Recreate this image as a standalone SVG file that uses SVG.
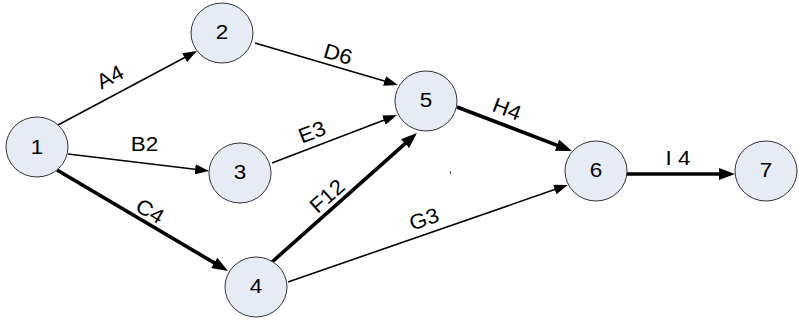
<svg xmlns="http://www.w3.org/2000/svg" width="799" height="321" viewBox="0 0 799 321">
<style>
.node ellipse{fill:#E6EBF5;stroke:#333;stroke-width:1}
text{font-family:"Liberation Sans",Arial,sans-serif;font-size:21px;fill:#000;text-anchor:middle;dominant-baseline:central}
.thin{stroke:#000;stroke-width:1.6;fill:none;marker-end:url(#ah)}
.thick{stroke:#000;stroke-width:3.6;fill:none;marker-end:url(#ahb)}
</style>
<defs>
<marker id="ah" markerUnits="userSpaceOnUse" markerWidth="14" markerHeight="10" refX="6" refY="5" orient="auto" viewBox="0 0 14 10"><path d="M0,0 L14,5 L0,10 z" fill="#000"/></marker>
<marker id="ahb" markerUnits="userSpaceOnUse" markerWidth="16" markerHeight="12" refX="8" refY="6" orient="auto" viewBox="0 0 16 12"><path d="M0,0 L16,6 L0,12 z" fill="#000"/></marker>
</defs>
<rect width="799" height="321" fill="#fff"/>
<g id="connectors">
<line class="thin" x1="58" y1="125" x2="189.9" y2="54.8"/>
<line class="thin" x1="68" y1="154" x2="201.1" y2="170"/>
<line class="thick" x1="57" y1="170" x2="221.1" y2="266.9"/>
<line class="thin" x1="255" y1="43" x2="390.3" y2="82.7"/>
<line class="thin" x1="272" y1="163" x2="389.5" y2="117.9"/>
<line class="thick" x1="272" y1="262" x2="411" y2="138.3"/>
<line class="thin" x1="288" y1="282" x2="560.4" y2="187.6"/>
<line class="thick" x1="457" y1="107" x2="564.5" y2="148.1"/>
<line class="thick" x1="627" y1="174" x2="727" y2="174"/>
<text transform="translate(110,77) rotate(-28) scale(1.07,1)">A4</text>
<text transform="translate(144.5,143.5) scale(1.07,1)">B2</text>
<text transform="translate(150,211) rotate(30.6) scale(1.07,1)">C4</text>
<text transform="translate(338,54) rotate(16.4) scale(1.07,1)">D6</text>
<text transform="translate(312,132) rotate(-21) scale(1.07,1)">E3</text>
<text transform="translate(327,196) rotate(-41.7) scale(1.07,1)">F12</text>
<text transform="translate(424,219) rotate(-19) scale(1.07,1)">G3</text>
<text transform="translate(507,109) rotate(21) scale(1.07,1)">H4</text>
<text transform="translate(678,158) scale(1.07,1)">I 4</text>
</g>
<rect x="450" y="171" width="1" height="3" fill="#555"/>
<g id="n1" class="node"><ellipse cx="37" cy="147" rx="31" ry="30"/><text transform="translate(37,146.5) scale(1.07,1)">1</text></g>
<g id="n2" class="node"><ellipse cx="222" cy="33" rx="31" ry="30"/><text transform="translate(222,31.5) scale(1.07,1)">2</text></g>
<g id="n3" class="node"><ellipse cx="240" cy="173" rx="31" ry="30"/><text transform="translate(240,171.5) scale(1.07,1)">3</text></g>
<g id="n4" class="node"><ellipse cx="256" cy="287" rx="31" ry="30"/><text transform="translate(256,285.5) scale(1.07,1)">4</text></g>
<g id="n5" class="node"><ellipse cx="426" cy="101" rx="31" ry="30"/><text transform="translate(426,99.5) scale(1.07,1)">5</text></g>
<g id="n6" class="node"><ellipse cx="596" cy="171" rx="31" ry="30"/><text transform="translate(596,169.5) scale(1.07,1)">6</text></g>
<g id="n7" class="node"><ellipse cx="766" cy="171" rx="31" ry="30"/><text transform="translate(766,169.5) scale(1.07,1)">7</text></g>
</svg>
